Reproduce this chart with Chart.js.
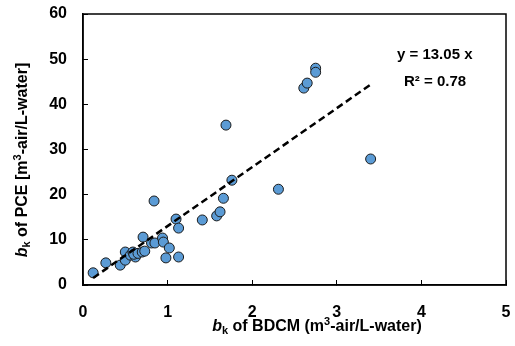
<!DOCTYPE html>
<html>
<head>
<meta charset="utf-8">
<script src="https://cdn.jsdelivr.net/npm/chart.js@4/dist/chart.umd.min.js"></script>
<style>
  html, body { margin: 0; padding: 0; background: #fff; }
  canvas { display: block; }
</style>
</head>
<body>
<canvas id="chart" width="515" height="346"></canvas>
<script>
// bk of BDCM (x) vs bk of PCE (y)
const bdcm = [0.12, 0.27, 0.44, 0.50, 0.50, 0.56, 0.59, 0.62, 0.60, 0.65, 0.70, 0.71, 0.73,
              0.81, 0.85, 0.84, 0.94, 0.95, 0.98, 1.02, 1.10, 1.13, 1.13, 1.41, 1.58, 1.62,
              1.66, 1.69, 1.76, 2.31, 2.61, 2.65, 2.75, 2.75, 3.40];
const pce  = [2.7, 4.9, 4.4, 7.3, 5.5, 6.6, 7.3, 6.2, 6.8, 7.0, 7.3, 10.6, 7.5,
              9.3, 9.3, 18.6, 10.4, 9.5, 6.0, 8.2, 14.6, 12.6, 6.2, 14.4, 15.3, 16.2,
              19.2, 35.4, 23.2, 21.2, 43.6, 44.7, 48.0, 47.1, 27.9];

// trendline end points (y = 13.05 x)
const trendX = [0.12, 3.40];
const trendY = [1.57, 44.37];

const xTicks = [0, 1, 2, 3, 4, 5];
const yTicks = [0, 10, 20, 30, 40, 50, 60];

const eqText = 'y = 13.05 x';
const r2Text = 'R² = 0.78';

const FONT = '"Liberation Sans", Arial, sans-serif';

function drawRich(ctx, parts, x, y) {
  let w = 0;
  parts.forEach(p => { ctx.font = p.font; w += ctx.measureText(p.text).width; });
  let cx = x - w / 2;
  ctx.textBaseline = 'middle';
  ctx.textAlign = 'left';
  parts.forEach(p => {
    ctx.font = p.font;
    ctx.fillText(p.text, cx, y + (p.dy || 0));
    cx += ctx.measureText(p.text).width;
  });
}

const decor = {
  id: 'decor',
  afterDraw(chart) {
    const ctx = chart.ctx;
    const a = chart.chartArea;
    ctx.save();
    ctx.strokeStyle = '#000';
    ctx.lineWidth = 1.5;
    ctx.strokeRect(a.left, a.top, a.right - a.left, a.bottom - a.top);

    ctx.fillStyle = '#000';
    const bold = 'bold 16px ' + FONT;
    const ital = 'italic bold 16px ' + FONT;
    const small = 'bold 11px ' + FONT;

    drawRich(ctx, [
      { text: 'b', font: ital },
      { text: 'k', font: small, dy: 4 },
      { text: ' of BDCM (m', font: bold },
      { text: '3', font: small, dy: -5 },
      { text: '-air/L-water)', font: bold }
    ], 317, 327);

    ctx.save();
    ctx.translate(23, 160);
    ctx.rotate(-Math.PI / 2);
    drawRich(ctx, [
      { text: 'b', font: ital },
      { text: 'k', font: small, dy: 4 },
      { text: ' of PCE [m', font: bold },
      { text: '3', font: small, dy: -5 },
      { text: '-air/L-water]', font: bold }
    ], 0, 0);
    ctx.restore();

    ctx.font = 'bold 15px ' + FONT;
    ctx.textAlign = 'left';
    ctx.textBaseline = 'middle';
    ctx.fillText(eqText, 397, 55);
    ctx.fillText(r2Text, 404, 82);
    ctx.restore();
  }
};

const tickFont = { family: FONT, size: 16, weight: 'bold' };

new Chart(document.getElementById('chart').getContext('2d'), {
  type: 'scatter',
  data: {
    datasets: [
      {
        type: 'line',
        data: trendX.map((x, i) => ({ x: x, y: trendY[i] })),
        borderColor: '#000',
        borderWidth: 2.5,
        borderDash: [7, 4],
        pointRadius: 0,
        fill: false,
        order: 0
      },
      {
        data: bdcm.map((x, i) => ({ x: x, y: pce[i] })),
        backgroundColor: '#5B9BD5',
        borderColor: '#1b1b1b',
        borderWidth: 1,
        pointRadius: 5,
        order: 1
      }
    ]
  },
  options: {
    responsive: false,
    animation: false,
    devicePixelRatio: 1,
    layout: { padding: { top: 14, right: 9, left: 0, bottom: 0 } },
    plugins: { legend: { display: false }, tooltip: { enabled: false } },
    scales: {
      x: {
        type: 'linear',
        min: 0, max: 5,
        afterBuildTicks: s => { s.ticks = xTicks.map(v => ({ value: v })); },
        afterFit: s => { s.height = 61; s.paddingLeft = 0; s.paddingRight = 0; },
        ticks: { font: tickFont, color: '#000', padding: 23 },
        grid: { drawOnChartArea: false, tickLength: -5, tickColor: '#000', lineWidth: 1 },
        border: { color: '#000', width: 1.5 }
      },
      y: {
        type: 'linear',
        min: 0, max: 60,
        afterBuildTicks: s => { s.ticks = yTicks.map(v => ({ value: v })); },
        afterFit: s => { s.width = 83; s.paddingTop = 0; s.paddingBottom = 0; },
        ticks: { font: tickFont, color: '#000', padding: 21 },
        grid: { drawOnChartArea: false, tickLength: -5, tickColor: '#000', lineWidth: 1 },
        border: { color: '#000', width: 1.5 }
      }
    }
  },
  plugins: [decor]
});
</script>
</body>
</html>
